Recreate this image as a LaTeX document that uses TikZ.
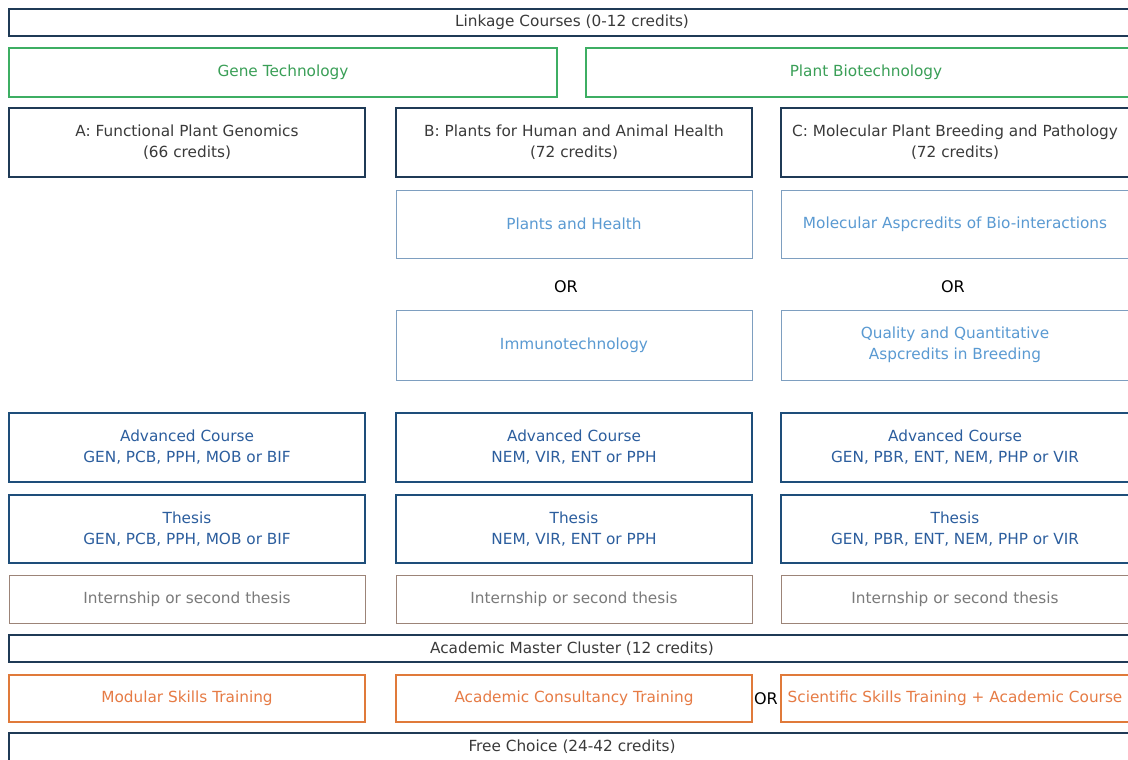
\documentclass[tikz,border=0pt]{standalone}
\usepackage{fontspec}
\setmainfont{DejaVu Sans}
\definecolor{navy}{HTML}{1F3A56}
\definecolor{navytext}{HTML}{3A3A3A}
\definecolor{gborder}{HTML}{3DAE63}
\definecolor{gtext}{HTML}{3A9F57}
\definecolor{lbborder}{HTML}{7E9FC0}
\definecolor{lbtext}{HTML}{5A9AD2}
\definecolor{bborder}{HTML}{1E4E7A}
\definecolor{btext}{HTML}{2C5E9E}
\definecolor{iborder}{HTML}{9C8478}
\definecolor{itext}{HTML}{7A7A7A}
\definecolor{oborder}{HTML}{E07A3A}
\definecolor{otext}{HTML}{E67B45}
\tikzset{
  every node/.style={font=\fontsize{15.3}{21}\selectfont, align=center, inner sep=0pt},
  bx/.style={draw, rectangle, line width=1.3pt},
  navybox/.style={bx, draw=navy, text=navytext},
  greenbox/.style={bx, draw=gborder, text=gtext},
  lbbox/.style={bx, draw=lbborder, text=lbtext, line width=1pt},
  bluebox/.style={bx, draw=bborder, text=btext},
  intbox/.style={bx, draw=iborder, text=itext, line width=1pt},
  orbox/.style={bx, draw=oborder, text=otext},
  ortext/.style={text=black, font=\fontsize{16}{20}\selectfont},
}
\begin{document}
\begin{tikzpicture}[x=1pt,y=-1pt]
\useasboundingbox (0,0) rectangle (1128,760);
\clip (0,0) rectangle (1128,760);
\fill[white] (0,0) rectangle (1128,760);
% top
\node[navybox, minimum width=1126pt, minimum height=27pt] (link) at (572,22.5) {Linkage Courses (0-12 credits)};
\node[greenbox, minimum width=548pt, minimum height=49pt] (gene) at (283,72.5) {Gene Technology};
\node[greenbox, minimum width=560pt, minimum height=49pt] (pbio) at (866,72.5) {Plant Biotechnology};
% tracks
\node[navybox, minimum width=356pt, minimum height=69pt] (A) at (187,142.5) {A: Functional Plant Genomics\\(66 credits)};
\node[navybox, minimum width=356pt, minimum height=69pt] (B) at (574,142.5) {B: Plants for Human and Animal Health\\(72 credits)};
\node[navybox, minimum width=348pt, minimum height=69pt] (C) at (955,142.5) {C: Molecular Plant Breeding and Pathology\\(72 credits)};
% options
\node[lbbox, minimum width=356pt, minimum height=68pt] (ph) at (574,224) {Plants and Health};
\node[lbbox, minimum width=348pt, minimum height=68pt] (mab) at (955,224) {Molecular Aspcredits of Bio-interactions};
\node[ortext] (orB) at (566,287) {OR};
\node[ortext] (orC) at (953,287) {OR};
\node[lbbox, minimum width=356pt, minimum height=70pt] (imm) at (574,345) {Immunotechnology};
\node[lbbox, minimum width=348pt, minimum height=70pt] (qqa) at (955,345) {Quality and Quantitative\\Aspcredits in Breeding};
% advanced
\node[bluebox, minimum width=356pt, minimum height=69pt] (advA) at (187,447.5) {Advanced Course\\GEN, PCB, PPH, MOB or BIF};
\node[bluebox, minimum width=356pt, minimum height=69pt] (advB) at (574,447.5) {Advanced Course\\NEM, VIR, ENT or PPH};
\node[bluebox, minimum width=348pt, minimum height=69pt] (advC) at (955,447.5) {Advanced Course\\GEN, PBR, ENT, NEM, PHP or VIR};
% thesis
\node[bluebox, minimum width=356pt, minimum height=68pt] (thA) at (187,529) {Thesis\\GEN, PCB, PPH, MOB or BIF};
\node[bluebox, minimum width=356pt, minimum height=68pt] (thB) at (574,529) {Thesis\\NEM, VIR, ENT or PPH};
\node[bluebox, minimum width=348pt, minimum height=68pt] (thC) at (955,529) {Thesis\\GEN, PBR, ENT, NEM, PHP or VIR};
% internship
\node[intbox, minimum width=356pt, minimum height=48pt] (inA) at (187,599.5) {Internship or second thesis};
\node[intbox, minimum width=356pt, minimum height=48pt] (inB) at (574,599.5) {Internship or second thesis};
\node[intbox, minimum width=348pt, minimum height=48pt] (inC) at (955,599.5) {Internship or second thesis};
% cluster
\node[navybox, minimum width=1126pt, minimum height=27pt] (amc) at (572,648.5) {Academic Master Cluster (12 credits)};
\node[orbox, minimum width=356pt, minimum height=47pt] (mst) at (187,698.5) {Modular Skills Training};
\node[orbox, minimum width=356pt, minimum height=47pt] (act) at (574,698.5) {Academic Consultancy Training};
\node[ortext, anchor=center] (orO) at (766,698.5) {OR};
\node[orbox, minimum width=348pt, minimum height=47pt] (sst) at (955,698.5) {Scientific Skills Training + Academic Course};
\node[navybox, minimum width=1126pt, minimum height=28pt] (free) at (572,747) {Free Choice (24-42 credits)};
\end{tikzpicture}
\end{document}
